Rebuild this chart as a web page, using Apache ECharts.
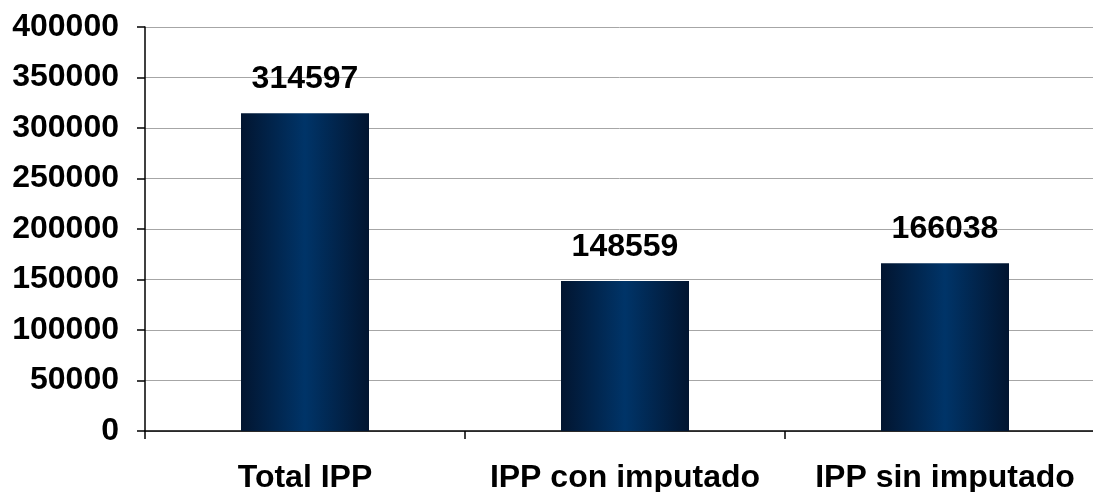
<!DOCTYPE html>
<html>
<head>
<meta charset="utf-8">
<script src="https://cdn.jsdelivr.net/npm/echarts@6/dist/echarts.min.js"></script>
<style>
  html, body { margin: 0; padding: 0; background: #fff; }
  #chart { width: 1093px; height: 492px; }
</style>
</head>
<body>
<div id="chart"></div>
<script>
const categories = ['Total IPP', 'IPP con imputado', 'IPP sin imputado']
const values = [314597, 148559, 166038]
const yTicks = [0, 50000, 100000, 150000, 200000, 250000, 300000, 350000, 400000]

const font = '"Liberation Sans", Arial, sans-serif'
const chart = echarts.init(document.getElementById('chart'))
const barColor = new echarts.graphic.LinearGradient(0, 0, 1, 0, [
  { offset: 0, color: '#021530' },
  { offset: 0.5, color: '#003468' },
  { offset: 1, color: '#021530' }
])

chart.setOption({
  animation: false,
  grid: { left: 145, right: -12, top: 27, bottom: 61, outerBoundsMode: 'none', containLabel: false },
  xAxis: {
    type: 'category',
    data: categories,
    boundaryGap: true,
    axisLine: { lineStyle: { color: '#000', width: 1.5 } },
    axisTick: { show: true, length: 8, lineStyle: { color: '#000', width: 1.5 } },
    axisLabel: {
      color: '#000', fontSize: 32, fontWeight: 'bold', fontFamily: font,
      margin: 31, interval: 0
    },
    splitLine: { show: false }
  },
  yAxis: {
    type: 'value',
    min: yTicks[0],
    max: yTicks[yTicks.length - 1],
    interval: 50000,
    axisLine: { show: true, lineStyle: { color: '#000', width: 1.5 } },
    axisTick: { show: true, inside: false, length: 8, lineStyle: { color: '#000', width: 1.5 } },
    axisLabel: {
      color: '#000', fontSize: 32, fontWeight: 'bold', fontFamily: font, margin: 26,
      formatter: v => String(v)
    },
    splitLine: { show: true, lineStyle: { color: '#a6a6a6', width: 1 } }
  },
  series: [{
    type: 'bar',
    data: values,
    barWidth: '40%',
    itemStyle: { color: barColor },
    label: {
      show: true,
      position: 'top',
      distance: 18,
      color: '#000', fontSize: 32, fontWeight: 'bold', fontFamily: font
    }
  }]
})
</script>
</body>
</html>
